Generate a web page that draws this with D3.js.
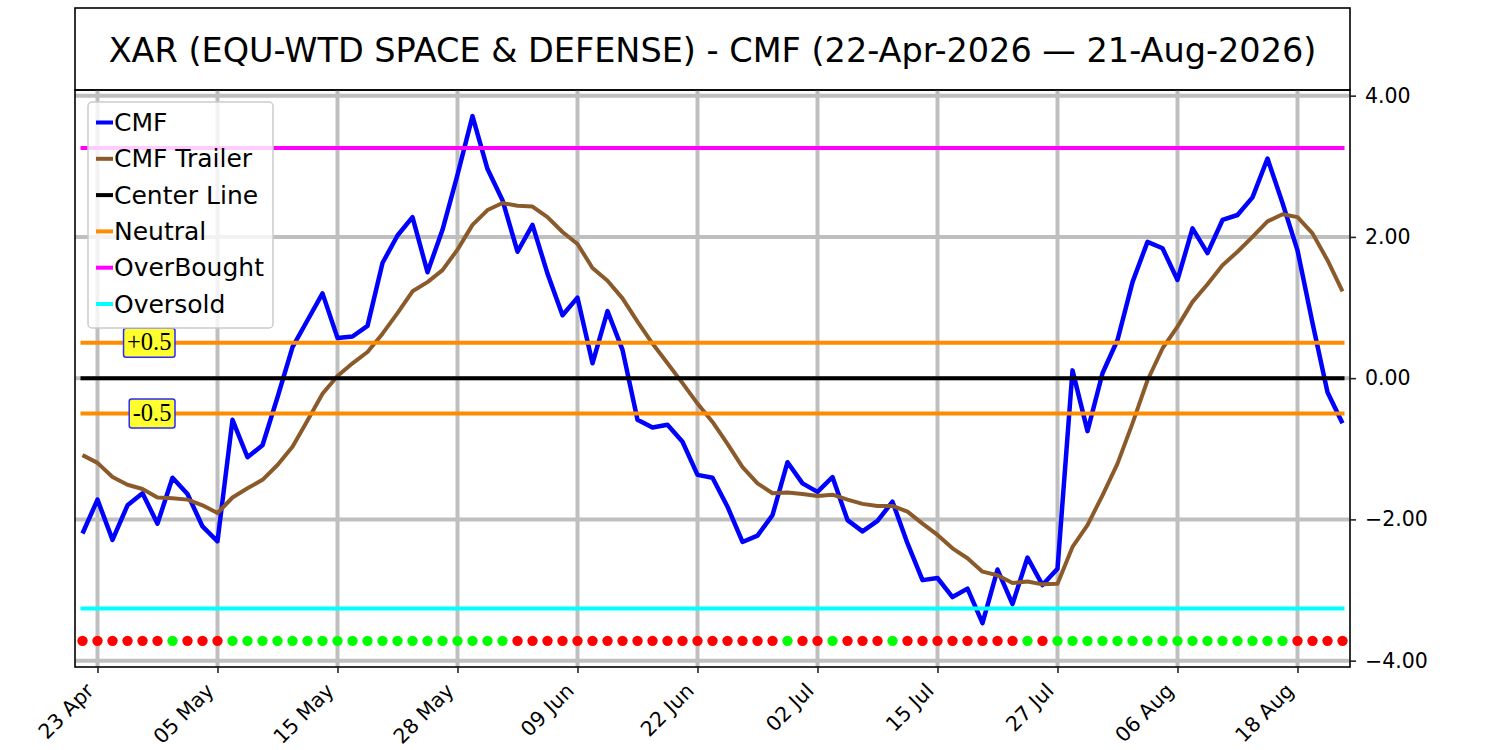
<!DOCTYPE html>
<html>
<head>
<meta charset="utf-8">
<script src="https://cdn.jsdelivr.net/npm/d3@7"></script>
<style>
  body { margin: 0; background: #fff; }
  svg { font-family: "DejaVu Sans", sans-serif; }
</style>
</head>
<body>
<div id="chart"></div>
<script>
var W = 1500;
var H = 750;
var plotLeft = 75;
var plotRight = 1350;
var plotTop = 90;
var plotBottom = 667;

var title = 'XAR (EQU-WTD SPACE & DEFENSE) - CMF (22-Apr-2026 \u2014 21-Aug-2026)';

// trading days shown on the chart
var dates = [
  '2026-04-22','2026-04-23','2026-04-24','2026-04-27','2026-04-28','2026-04-29','2026-04-30','2026-05-01','2026-05-04','2026-05-05',
  '2026-05-06','2026-05-07','2026-05-08','2026-05-11','2026-05-12','2026-05-13','2026-05-14','2026-05-15','2026-05-18','2026-05-19',
  '2026-05-20','2026-05-21','2026-05-22','2026-05-26','2026-05-27','2026-05-28','2026-05-29','2026-06-01','2026-06-02','2026-06-03',
  '2026-06-04','2026-06-05','2026-06-08','2026-06-09','2026-06-10','2026-06-11','2026-06-12','2026-06-15','2026-06-16','2026-06-17',
  '2026-06-18','2026-06-22','2026-06-23','2026-06-24','2026-06-25','2026-06-26','2026-06-29','2026-06-30','2026-07-01','2026-07-02',
  '2026-07-06','2026-07-07','2026-07-08','2026-07-09','2026-07-10','2026-07-13','2026-07-14','2026-07-15','2026-07-16','2026-07-17',
  '2026-07-20','2026-07-21','2026-07-22','2026-07-23','2026-07-24','2026-07-27','2026-07-28','2026-07-29','2026-07-30','2026-07-31',
  '2026-08-03','2026-08-04','2026-08-05','2026-08-06','2026-08-07','2026-08-10','2026-08-11','2026-08-12','2026-08-13','2026-08-14',
  '2026-08-17','2026-08-18','2026-08-19','2026-08-20','2026-08-21'
];

var cmf = [
  -2.20, -1.72, -2.29, -1.80, -1.63, -2.06, -1.41, -1.64, -2.10, -2.31,
  -0.59, -1.12, -0.95, -0.27, 0.44, 0.82, 1.20, 0.57, 0.59, 0.74,
  1.63, 2.02, 2.28, 1.50, 2.10, 2.88, 3.71, 2.96, 2.52, 1.79,
  2.17, 1.48, 0.89, 1.14, 0.21, 0.95, 0.40, -0.59, -0.70, -0.66,
  -0.90, -1.37, -1.41, -1.82, -2.32, -2.23, -1.94, -1.19, -1.49, -1.61,
  -1.40, -2.01, -2.17, -2.02, -1.75, -2.34, -2.86, -2.83, -3.10, -2.98,
  -3.47, -2.71, -3.20, -2.54, -2.93, -2.70, 0.11, -0.75, 0.07, 0.54,
  1.36, 1.93, 1.84, 1.39, 2.12, 1.77, 2.24, 2.31, 2.56, 3.11,
  2.48, 1.81, 0.78, -0.20, -0.64
];

var trailer = [
  -1.09, -1.20, -1.40, -1.51, -1.57, -1.69, -1.70, -1.72, -1.80, -1.91,
  -1.69, -1.56, -1.44, -1.23, -0.97, -0.60, -0.22, 0.03, 0.21, 0.37,
  0.63, 0.92, 1.23, 1.36, 1.53, 1.82, 2.17, 2.38, 2.48, 2.44,
  2.43, 2.28, 2.07, 1.90, 1.56, 1.38, 1.13, 0.80, 0.49, 0.21,
  -0.07, -0.36, -0.62, -0.93, -1.26, -1.49, -1.63, -1.62, -1.64, -1.67,
  -1.65, -1.72, -1.78, -1.81, -1.81, -1.89, -2.06, -2.22, -2.41, -2.55,
  -2.74, -2.79, -2.90, -2.88, -2.92, -2.91, -2.39, -2.08, -1.66, -1.21,
  -0.64, -0.03, 0.42, 0.73, 1.08, 1.33, 1.60, 1.79, 2.00, 2.22,
  2.32, 2.28, 2.05, 1.67, 1.23
];

// 1 = green dot, 0 = red dot
var signal = [
  0, 0, 0, 0, 0, 0, 1, 0, 0, 0,
  1, 1, 1, 1, 1, 1, 1, 1, 1, 1,
  1, 1, 1, 1, 1, 1, 1, 1, 1, 0,
  0, 0, 0, 0, 0, 0, 0, 0, 0, 0,
  0, 0, 0, 0, 0, 0, 0, 1, 0, 0,
  1, 0, 0, 0, 1, 0, 0, 0, 0, 0,
  0, 0, 0, 1, 0, 1, 1, 1, 1, 1,
  1, 1, 1, 1, 1, 1, 1, 1, 1, 1,
  1, 0, 0, 0, 0
];

var signalLevel = -3.72;
var levelValues = [0, 0.5, -0.5, 3.26, -3.26];
var levelColors = ['#000000', '#ff8c00', '#ff8c00', '#ff00ff', '#00ffff'];

var labelTexts = ['+0.5', '-0.5'];
var labelValues = [0.5, -0.5];

var yTicks = [4, 2, 0, -2, -4];
var xTicks = dates.filter(function(d, i) { return i % 8 === 1; });

var legendNames = ['CMF', 'CMF Trailer', 'Center Line', 'Neutral', 'OverBought', 'Oversold'];
var legendColors = ['#0000ff', '#8b5a2b', '#000000', '#ff8c00', '#ff00ff', '#00ffff'];

var parse = d3.timeParse('%Y-%m-%d');
var fmt = d3.timeFormat('%d %b');

var svg = d3.select('#chart')
  .append('svg')
  .attr('width', W)
  .attr('height', H);

var x = d3.scalePoint()
  .domain(dates)
  .range([plotLeft, plotRight])
  .padding(0.5);

var y = d3.scaleLinear()
  .domain([-4.09, 4.08])
  .range([plotBottom, plotTop]);

svg.append('clipPath')
  .attr('id', 'plotclip')
  .append('rect')
  .attr('x', plotLeft)
  .attr('y', plotTop)
  .attr('width', plotRight - plotLeft)
  .attr('height', plotBottom - plotTop);

// title box
svg.append('rect')
  .attr('x', plotLeft)
  .attr('y', 8)
  .attr('width', plotRight - plotLeft)
  .attr('height', plotTop - 8)
  .attr('fill', 'none')
  .attr('stroke', '#000')
  .attr('stroke-width', 1.6);

svg.append('text')
  .attr('x', (plotLeft + plotRight) / 2)
  .attr('y', 50)
  .attr('text-anchor', 'middle')
  .attr('dominant-baseline', 'central')
  .style('font-size', '33.5px')
  .text(title);

var plot = svg.append('g').attr('clip-path', 'url(#plotclip)');

// grid
plot.selectAll('.vgrid')
  .data(xTicks)
  .enter()
  .append('line')
  .attr('x1', function(d) { return x(d); })
  .attr('x2', function(d) { return x(d); })
  .attr('y1', plotTop)
  .attr('y2', plotBottom)
  .attr('stroke', '#bfbfbf')
  .attr('stroke-width', 4);

plot.selectAll('.hgrid')
  .data(yTicks)
  .enter()
  .append('line')
  .attr('x1', plotLeft)
  .attr('x2', plotRight)
  .attr('y1', function(d) { return y(d); })
  .attr('y2', function(d) { return y(d); })
  .attr('stroke', '#bfbfbf')
  .attr('stroke-width', 4);

var line = d3.line()
  .x(function(d, i) { return x(dates[i]); })
  .y(function(d) { return y(d); });

plot.append('path')
  .datum(cmf)
  .attr('d', line)
  .attr('fill', 'none')
  .attr('stroke', '#0000ff')
  .attr('stroke-width', 4.5)
  .attr('stroke-linejoin', 'round');

plot.append('path')
  .datum(trailer)
  .attr('d', line)
  .attr('fill', 'none')
  .attr('stroke', '#8b5a2b')
  .attr('stroke-width', 4)
  .attr('stroke-linejoin', 'round');

plot.selectAll('.level')
  .data(levelValues)
  .enter()
  .append('line')
  .attr('x1', x(dates[0]))
  .attr('x2', x(dates[dates.length - 1]))
  .attr('y1', function(d) { return y(d); })
  .attr('y2', function(d) { return y(d); })
  .attr('stroke', function(d, i) { return levelColors[i]; })
  .attr('stroke-width', 4)
  .attr('stroke-linecap', 'square');

plot.selectAll('.sig')
  .data(signal)
  .enter()
  .append('circle')
  .attr('cx', function(d, i) { return x(dates[i]); })
  .attr('cy', y(signalLevel))
  .attr('r', 5.2)
  .attr('fill', function(d) { return d ? '#00ff00' : '#ff0000'; });

// level labels
labelTexts.forEach(function(t, i) {
  var lg = svg.append('g');
  var txt = lg.append('text')
    .attr('x', 171.5)
    .attr('y', y(labelValues[i]) - 1)
    .attr('text-anchor', 'end')
    .attr('dominant-baseline', 'central')
    .style('font-family', '"Liberation Serif", serif')
    .style('font-size', '24.5px')
    .text(t);
  var bb = txt.node().getBBox();
  lg.insert('rect', 'text')
    .attr('x', bb.x - 3.5)
    .attr('y', y(labelValues[i]) - 14.5)
    .attr('width', bb.width + 7)
    .attr('height', 29)
    .attr('rx', 2.5)
    .attr('fill', '#ffff2e')
    .attr('stroke', '#2a2aff')
    .attr('stroke-width', 1.5);
});

// spines
svg.append('rect')
  .attr('x', plotLeft)
  .attr('y', plotTop)
  .attr('width', plotRight - plotLeft)
  .attr('height', plotBottom - plotTop)
  .attr('fill', 'none')
  .attr('stroke', '#000')
  .attr('stroke-width', 1.6);

// right axis
var yAxis = svg.append('g')
  .attr('transform', 'translate(' + plotRight + ',0)')
  .call(d3.axisRight(y).tickValues(yTicks).tickFormat(d3.format('.2f')).tickSize(6).tickPadding(9));
yAxis.select('.domain').remove();
yAxis.selectAll('line').attr('stroke', '#222').attr('stroke-width', 1.6);
yAxis.selectAll('text')
  .attr('fill', '#000')
  .style('font-family', '"DejaVu Sans", sans-serif')
  .style('font-size', '20.5px');

// bottom axis
var xAxis = svg.append('g')
  .attr('transform', 'translate(0,' + plotBottom + ')')
  .call(d3.axisBottom(x).tickValues(xTicks).tickFormat(function(d) { return fmt(parse(d)); }).tickSize(6));
xAxis.select('.domain').remove();
xAxis.selectAll('line').attr('stroke', '#222').attr('stroke-width', 1.6);
xAxis.selectAll('text')
  .attr('fill', '#000')
  .attr('x', 0)
  .attr('y', 0)
  .attr('dy', '0.35em')
  .attr('text-anchor', 'end')
  .attr('transform', 'translate(-8,20) rotate(-45)')
  .style('font-family', '"DejaVu Sans", sans-serif')
  .style('font-size', '20.5px');

// legend
var legend = svg.append('g');
legend.append('rect')
  .attr('x', 88)
  .attr('y', 102)
  .attr('width', 185)
  .attr('height', 226)
  .attr('rx', 4)
  .attr('fill', '#fff')
  .attr('fill-opacity', 0.8)
  .attr('stroke', '#cccccc')
  .attr('stroke-width', 1.5);

var items = legend.selectAll('.item')
  .data(legendNames)
  .enter()
  .append('g')
  .attr('transform', function(d, i) { return 'translate(0,' + (122.5 + i * 36.3) + ')'; });

items.append('line')
  .attr('x1', 96)
  .attr('x2', 113)
  .attr('stroke', function(d, i) { return legendColors[i]; })
  .attr('stroke-width', 4);

items.append('text')
  .attr('x', 114)
  .attr('dominant-baseline', 'central')
  .style('font-size', '25px')
  .text(function(d) { return d; });
</script>
</body>
</html>
